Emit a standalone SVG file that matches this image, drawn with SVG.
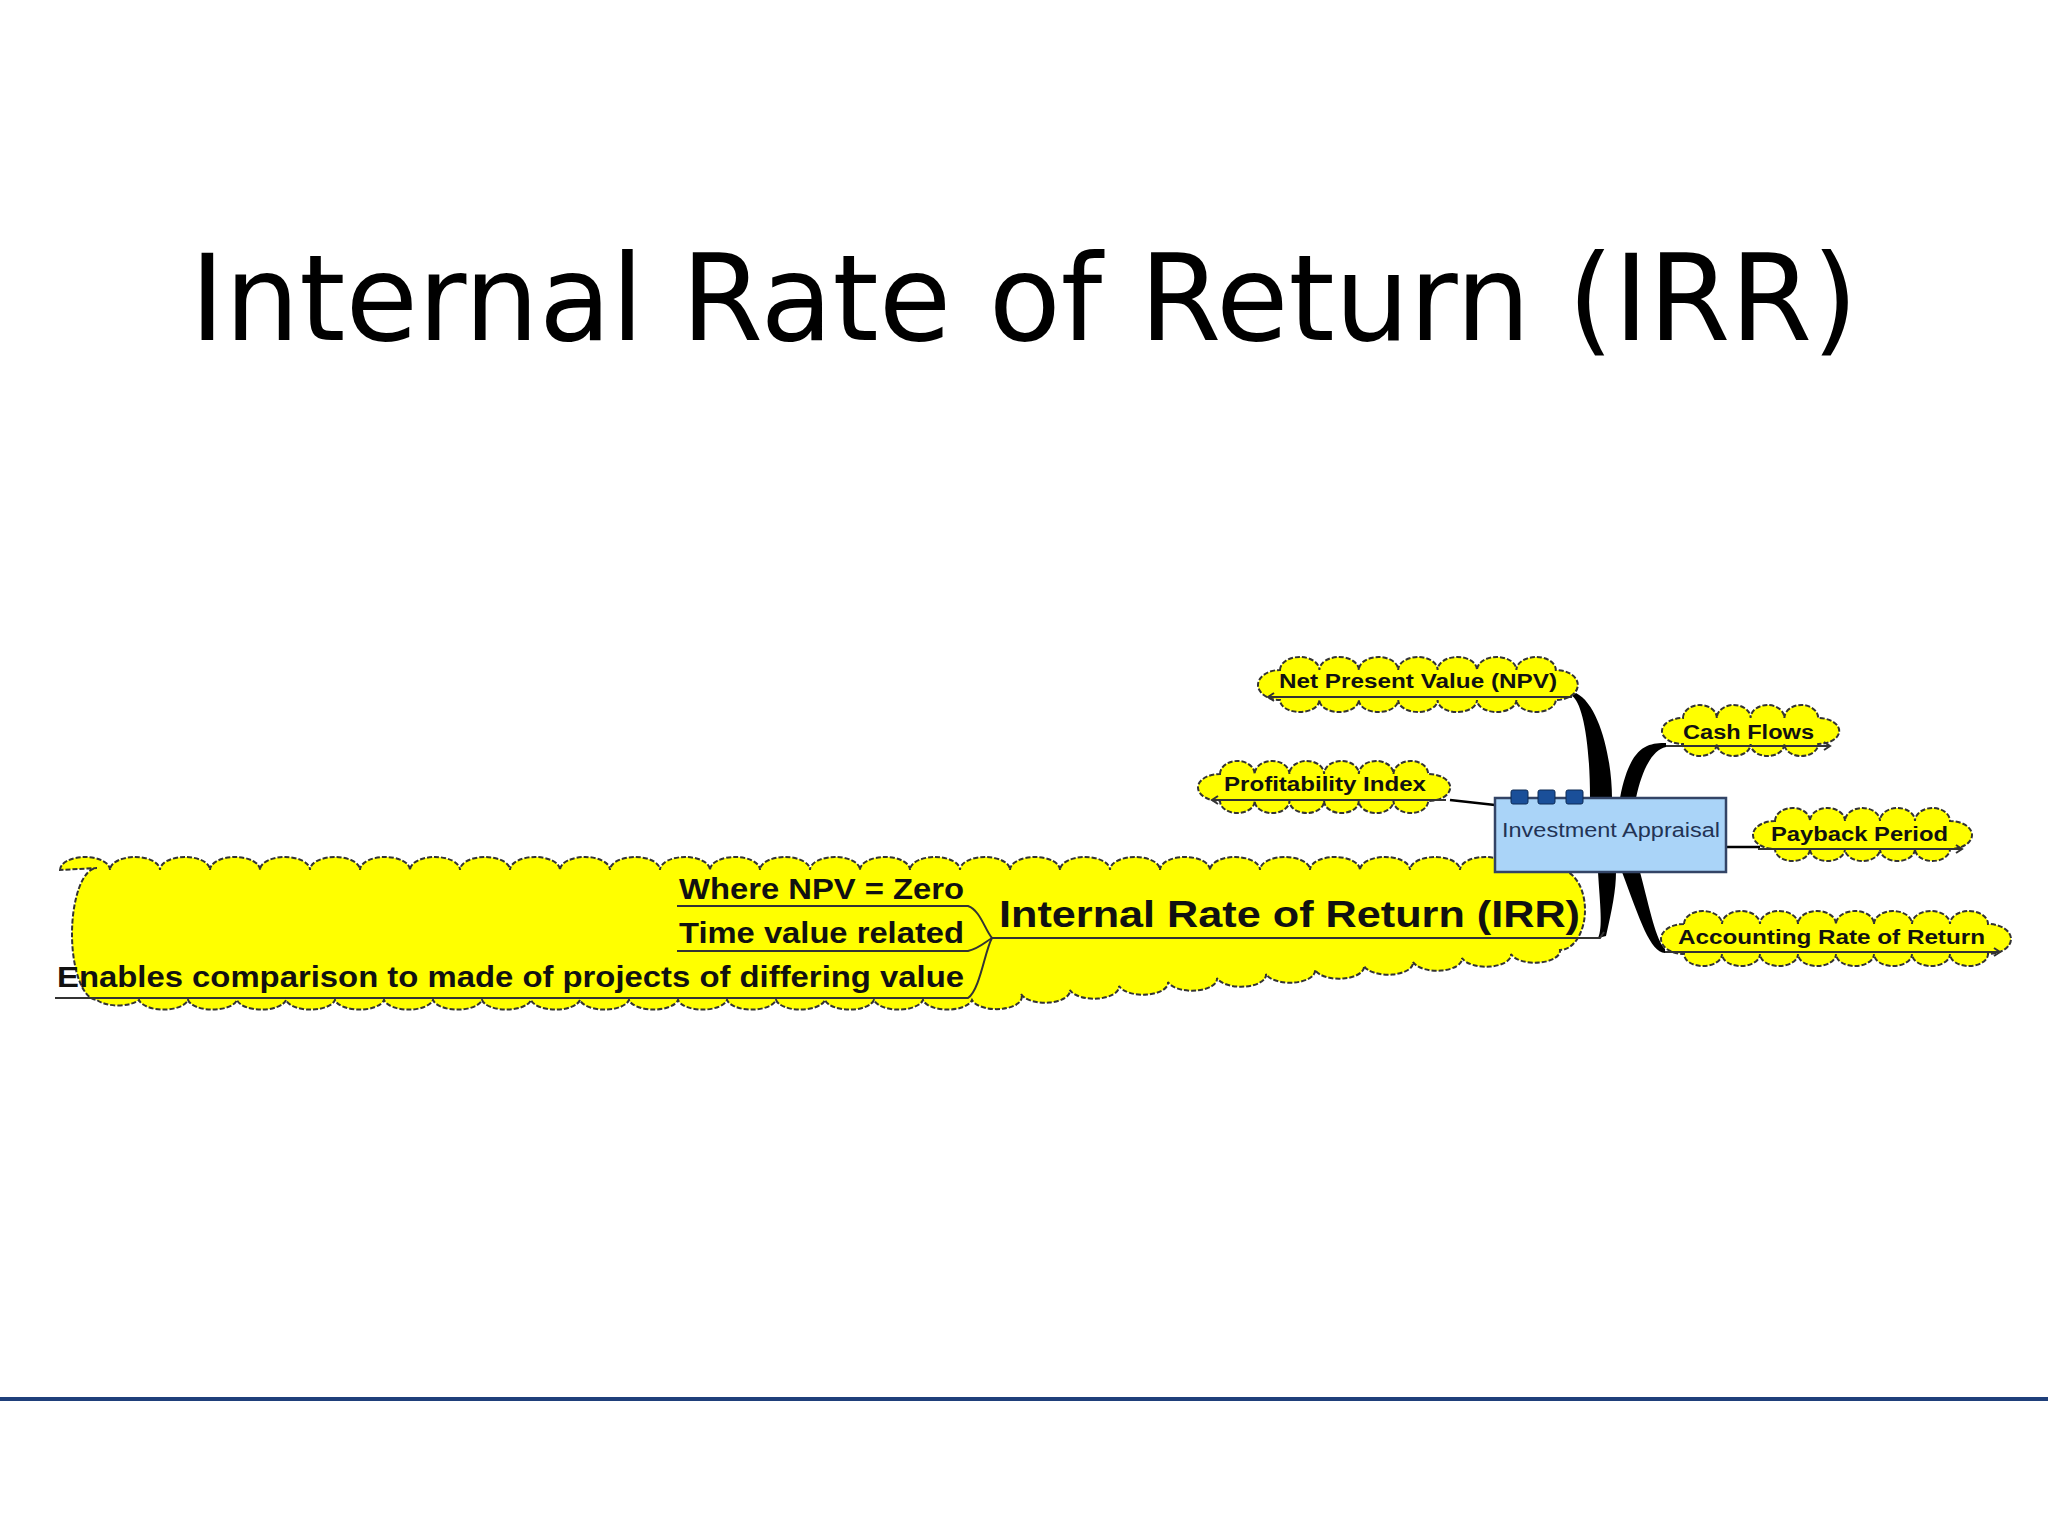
<svg xmlns="http://www.w3.org/2000/svg" width="2048" height="1536" viewBox="0 0 2048 1536">
<style>
.cloud{fill:#ffff00;stroke:#333;stroke-width:2;stroke-dasharray:5 2}
.lbl{font-family:"Liberation Sans",Arial,sans-serif;font-weight:bold;fill:#111}
.ul{stroke:#333;stroke-width:2;fill:none}
</style>
<rect width="2048" height="1536" fill="#ffffff"/>
<text x="1024" y="340" text-anchor="middle" font-family="DejaVu Sans,Verdana,sans-serif" font-size="120" textLength="1668" lengthAdjust="spacingAndGlyphs" fill="#000">Internal Rate of Return (IRR)</text>
<line x1="0" y1="1399" x2="2048" y2="1399" stroke="#1f3f7a" stroke-width="4"/>
<g id="connectors">
<path d="M1590,798 C1590,740 1582,702 1572,696 L1576,693 C1600,705 1612,760 1612,798 Z" fill="#000"/>
<path d="M1620,798 C1630,745 1648,743 1666,743 L1666,747 C1652,750 1642,770 1636,798 Z" fill="#000"/>
<path d="M1598,872 C1600,905 1603,928 1598,938 L1606,936 C1612,910 1616,890 1616,872 Z" fill="#000"/>
<path d="M1622,872 C1640,920 1650,952 1665,953 L1665,949 C1656,940 1650,910 1640,872 Z" fill="#000"/>
<path d="M1450,800 L1495,805" stroke="#000" stroke-width="2.5" fill="none"/>
<path d="M1726,847 L1760,847" stroke="#000" stroke-width="2.5" fill="none"/>
</g>
<g id="irr">
<path class="cloud" d="M60,870 a25,13 0 0 1 50,0 a25,13 0 0 1 50,0 a25,13 0 0 1 50,0 a25,13 0 0 1 50,0 a25,13 0 0 1 50,0 a25,13 0 0 1 50,0 a25,13 0 0 1 50,0 a25,13 0 0 1 50,0 a25,13 0 0 1 50,0 a25,13 0 0 1 50,0 a25,13 0 0 1 50,0 a25,13 0 0 1 50,0 a25,13 0 0 1 50,0 a25,13 0 0 1 50,0 a25,13 0 0 1 50,0 a25,13 0 0 1 50,0 a25,13 0 0 1 50,0 a25,13 0 0 1 50,0 a25,13 0 0 1 50,0 a25,13 0 0 1 50,0 a25,13 0 0 1 50,0 a25,13 0 0 1 50,0 a25,13 0 0 1 50,0 a25,13 0 0 1 50,0 a25,13 0 0 1 50,0 a25,13 0 0 1 50,0 a25,13 0 0 1 50,0 a25,13 0 0 1 50,0 a25,13 0 0 1 50,0 a25,13 0 0 1 50,0 a25,40 0 0 1 0,80 a25,12 0 0 1 -49,4 a25,12 0 0 1 -49,4 a25,12 0 0 1 -49,4 a25,12 0 0 1 -49,4 a25,12 0 0 1 -49,4 a25,12 0 0 1 -49,4 a25,12 0 0 1 -49,4 a25,12 0 0 1 -49,4 a25,12 0 0 1 -49,4 a25,12 0 0 1 -49,4 a25,12 0 0 1 -49,4 a25,12 0 0 1 -49,6 a25,12 0 0 1 -49,0 a25,12 0 0 1 -49,0 a25,12 0 0 1 -49,0 a25,12 0 0 1 -49,0 a25,12 0 0 1 -49,0 a25,12 0 0 1 -49,0 a25,12 0 0 1 -49,0 a25,12 0 0 1 -49,0 a25,12 0 0 1 -49,0 a25,12 0 0 1 -49,0 a25,12 0 0 1 -49,0 a25,12 0 0 1 -49,0 a25,12 0 0 1 -49,0 a25,12 0 0 1 -49,0 a25,12 0 0 1 -49,0 a25,12 0 0 1 -49,0 a25,12 0 0 1 -49,0 a25,12 0 0 1 -42,0 a25,66 0 0 1 0,-132 Z"/>
<text class="lbl" x="999" y="927" font-size="37" textLength="581" lengthAdjust="spacingAndGlyphs">Internal Rate of Return (IRR)</text>
<path class="ul" d="M992,938 L1600,938 L1604,932"/>
<text class="lbl" x="964" y="899" font-size="30" text-anchor="end" textLength="285" lengthAdjust="spacingAndGlyphs">Where NPV = Zero</text>
<text class="lbl" x="964" y="943" font-size="30" text-anchor="end" textLength="285" lengthAdjust="spacingAndGlyphs">Time value related</text>
<text class="lbl" x="964" y="987" font-size="30" text-anchor="end" textLength="907" lengthAdjust="spacingAndGlyphs">Enables comparison to made of projects of differing value</text>
<path class="ul" d="M677,906 L968,906 C980,910 985,930 992,938"/>
<path class="ul" d="M677,951 L968,951 C980,948 985,942 992,938"/>
<path class="ul" d="M55,998 L968,998 C980,990 985,950 992,938"/>
</g>
<g id="npv">
<path class="cloud" d="M1280,670 a19.7,13 0 0 1 39.4,0 a19.7,13 0 0 1 39.4,0 a19.7,13 0 0 1 39.4,0 a19.7,13 0 0 1 39.4,0 a19.7,13 0 0 1 39.4,0 a19.7,13 0 0 1 39.4,0 a19.7,13 0 0 1 39.4,0 a22,15 0 0 1 0,30 a19.7,12 0 0 1 -39.4,0 a19.7,12 0 0 1 -39.4,0 a19.7,12 0 0 1 -39.4,0 a19.7,12 0 0 1 -39.4,0 a19.7,12 0 0 1 -39.4,0 a19.7,12 0 0 1 -39.4,0 a19.7,12 0 0 1 -39.4,0 a22,15 0 0 1 0,-30 Z"/>
<text class="lbl" x="1279" y="688" font-size="20" textLength="278" lengthAdjust="spacingAndGlyphs">Net Present Value (NPV)</text>
<path class="ul" d="M1268,697 L1572,697 M1274,693 L1268,697 L1274,701"/>
</g>
<g id="cashflows">
<path class="cloud" d="M1683,718 a16.9,13 0 0 1 33.8,0 a16.9,13 0 0 1 33.8,0 a16.9,13 0 0 1 33.8,0 a16.9,13 0 0 1 33.8,0 a21,13 0 0 1 0,26 a16.9,12 0 0 1 -33.8,0 a16.9,12 0 0 1 -33.8,0 a16.9,12 0 0 1 -33.8,0 a16.9,12 0 0 1 -33.8,0 a21,13 0 0 1 0,-26 Z"/>
<text class="lbl" x="1683" y="739" font-size="20" textLength="131" lengthAdjust="spacingAndGlyphs">Cash Flows</text>
<path class="ul" d="M1666,746 L1830,746 M1824,742 L1830,746 L1824,750"/>
</g>
<g id="pi">
<path class="cloud" d="M1220,774 a17.3,13 0 0 1 34.7,0 a17.3,13 0 0 1 34.7,0 a17.3,13 0 0 1 34.7,0 a17.3,13 0 0 1 34.7,0 a17.3,13 0 0 1 34.7,0 a17.3,13 0 0 1 34.7,0 a22,13.5 0 0 1 0,27 a17.3,12 0 0 1 -34.7,0 a17.3,12 0 0 1 -34.7,0 a17.3,12 0 0 1 -34.7,0 a17.3,12 0 0 1 -34.7,0 a17.3,12 0 0 1 -34.7,0 a17.3,12 0 0 1 -34.7,0 a22,13.5 0 0 1 0,-27 Z"/>
<text class="lbl" x="1224" y="791" font-size="20" textLength="202" lengthAdjust="spacingAndGlyphs">Profitability Index</text>
<path class="ul" d="M1212,800 L1446,800 M1218,796 L1212,800 L1218,804"/>
</g>
<g id="payback">
<path class="cloud" d="M1775,821 a17.5,13 0 0 1 35,0 a17.5,13 0 0 1 35,0 a17.5,13 0 0 1 35,0 a17.5,13 0 0 1 35,0 a17.5,13 0 0 1 35,0 a22,14 0 0 1 0,28 a17.5,12 0 0 1 -35,0 a17.5,12 0 0 1 -35,0 a17.5,12 0 0 1 -35,0 a17.5,12 0 0 1 -35,0 a17.5,12 0 0 1 -35,0 a22,14 0 0 1 0,-28 Z"/>
<text class="lbl" x="1771" y="841" font-size="20" textLength="177" lengthAdjust="spacingAndGlyphs">Payback Period</text>
<path class="ul" d="M1758,849 L1962,849 M1956,845 L1962,849 L1956,853"/>
</g>
<g id="arr">
<path class="cloud" d="M1684,924 a19,13 0 0 1 38,0 a19,13 0 0 1 38,0 a19,13 0 0 1 38,0 a19,13 0 0 1 38,0 a19,13 0 0 1 38,0 a19,13 0 0 1 38,0 a19,13 0 0 1 38,0 a19,13 0 0 1 38,0 a23,15 0 0 1 0,30 a19,12 0 0 1 -38,0 a19,12 0 0 1 -38,0 a19,12 0 0 1 -38,0 a19,12 0 0 1 -38,0 a19,12 0 0 1 -38,0 a19,12 0 0 1 -38,0 a19,12 0 0 1 -38,0 a19,12 0 0 1 -38,0 a23,15 0 0 1 0,-30 Z"/>
<text class="lbl" x="1678" y="944" font-size="20" textLength="307" lengthAdjust="spacingAndGlyphs">Accounting Rate of Return</text>
<path class="ul" d="M1665,952 L2000,952 M1994,948 L2000,952 L1994,956"/>
</g>
<g id="investment">
<rect x="1495" y="798" width="231" height="74" fill="#aad4f8" stroke="#334466" stroke-width="2.5"/>
<rect x="1511" y="790" width="17" height="14" rx="2" fill="#1a4f99" stroke="#0d2a55"/>
<rect x="1538" y="790" width="17" height="14" rx="2" fill="#1a4f99" stroke="#0d2a55"/>
<rect x="1566" y="790" width="17" height="14" rx="2" fill="#1a4f99" stroke="#0d2a55"/>
<text x="1502" y="837" font-family="Liberation Sans,Arial,sans-serif" font-size="20" fill="#223355" textLength="218" lengthAdjust="spacingAndGlyphs">Investment Appraisal</text>
</g>
</svg>
